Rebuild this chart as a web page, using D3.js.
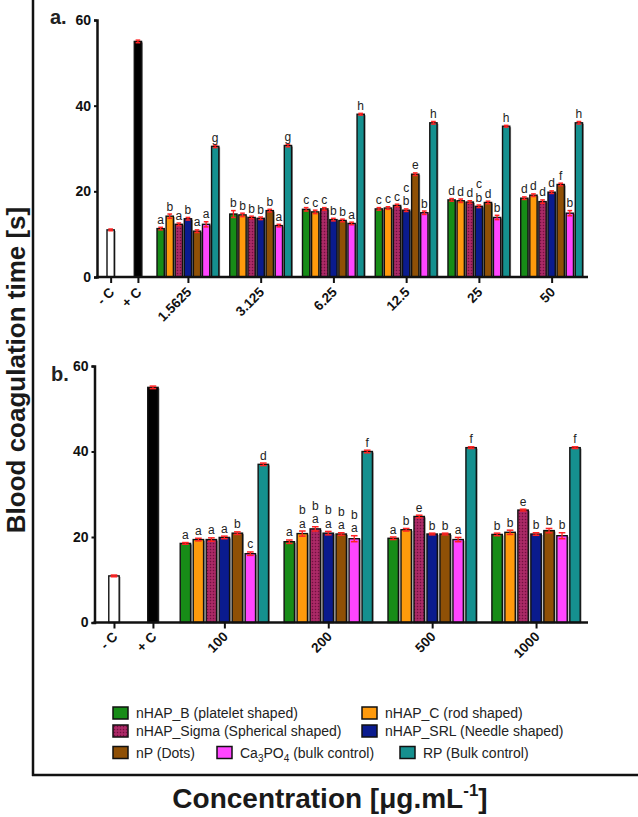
<!DOCTYPE html>
<html>
<head>
<meta charset="utf-8">
<script src="https://cdn.jsdelivr.net/npm/d3@7"></script>
<style>
  html, body { margin: 0; padding: 0; background: #fff; }
  svg { display: block; font-family: "Liberation Sans", Arial, Helvetica, sans-serif; }
</style>
</head>
<body>
<svg id="chart" width="638" height="817"></svg>
<script>
// ---------------- DATA ----------------
const seriesNames = [
  "nHAP_B (platelet shaped)",
  "nHAP_C (rod shaped)",
  "nHAP_Sigma (Spherical shaped)",
  "nHAP_SRL (Needle shaped)",
  "nP (Dots)",
  "Ca3PO4 (bulk control)",
  "RP (Bulk control)"
];
const controlLabels = ["- C", "+ C"];
const yTicks = [0, 20, 40, 60];

// Panel a
const concA = ["1.5625", "3.125", "6.25", "12.5", "25", "50"];
const controlA = [11.0, 55.0];
const controlErrA = [0.2, 0.3];
const valuesA = [
  [11.3, 14.2, 12.3, 13.6, 10.7, 12.3, 30.5],
  [14.7, 14.5, 13.9, 13.7, 15.5, 12.0, 30.7],
  [15.8, 15.2, 15.9, 13.4, 13.2, 12.5, 38.0],
  [15.9, 16.1, 16.7, 15.6, 24.0, 15.0, 36.0],
  [18.0, 17.8, 17.5, 16.5, 17.4, 13.9, 35.2],
  [18.4, 19.1, 17.6, 19.8, 21.6, 14.9, 36.0]
];
const errA = [
  [0.3, 0.5, 0.3, 0.3, 0.3, 0.6, 0.3],
  [0.8, 0.4, 0.3, 0.3, 0.3, 0.3, 0.3],
  [0.4, 0.4, 0.3, 0.3, 0.3, 0.3, 0.2],
  [0.3, 0.3, 0.3, 0.3, 0.3, 0.4, 0.3],
  [0.3, 0.4, 0.3, 0.3, 0.3, 0.5, 0.2],
  [0.3, 0.3, 0.4, 0.3, 0.3, 0.6, 0.3]
];
const lettersA = [
  ["a", "b", "a", "b", "a", "a", "g"],
  ["b", "b", "b", "b", "b", "a", "g"],
  ["c", "c", "c", "b", "b", "a", "h"],
  ["c", "c", "c", "c b", "e", "b", "h"],
  ["d", "d", "d", "c b", "d", "b", "h"],
  ["d", "d", "d", "d", "f", "b", "h"]
];

// Panel b
const concB = ["100", "200", "500", "1000"];
const controlB = [10.9, 55.0];
const controlErrB = [0.2, 0.3];
const valuesB = [
  [18.5, 19.4, 19.4, 19.9, 20.9, 16.1, 37.0],
  [18.9, 20.8, 21.9, 20.9, 20.7, 19.6, 40.0],
  [19.7, 21.7, 24.8, 20.7, 20.7, 19.4, 40.9],
  [20.6, 21.1, 26.3, 20.7, 21.5, 20.3, 40.9]
];
const errB = [
  [0.2, 0.3, 0.4, 0.3, 0.3, 0.4, 0.3],
  [0.4, 0.6, 0.5, 0.4, 0.3, 0.7, 0.3],
  [0.3, 0.3, 0.3, 0.2, 0.2, 0.5, 0.2],
  [0.3, 0.5, 0.2, 0.3, 0.5, 0.7, 0.2]
];
const lettersB = [
  ["a", "a", "a", "a", "b", "c", "d"],
  ["a", "b a", "b a", "b a", "b a", "b a", "f"],
  ["a", "b", "e", "b", "b", "a", "f"],
  ["b", "b", "e", "b", "b", "b", "f"]
];

// ---------------- STYLE ----------------
const seriesColors = ["#178c17", "#ff9a0c", "url(#sigmaPat)", "#0a1b8e", "#8f5006", "#ff45ff", "#15908f"];
const errColor = "#ff2222";

const svg = d3.select("#chart");
const defs = svg.append("defs");
const pat = defs.append("pattern").attr("id", "sigmaPat")
  .attr("patternUnits", "userSpaceOnUse").attr("width", 3).attr("height", 3);
pat.append("rect").attr("width", 3).attr("height", 3).attr("fill", "#a3235f");
pat.append("rect").attr("x", 0).attr("y", 0).attr("width", 1).attr("height", 1).attr("fill", "#6e1240");
pat.append("rect").attr("x", 1.5).attr("y", 1.5).attr("width", 1).attr("height", 1).attr("fill", "#c04080");

// Outer frame
svg.append("line").attr("x1", 33).attr("x2", 33).attr("y1", 0).attr("y2", 776)
  .attr("stroke", "#111").attr("stroke-width", 2.5);
svg.append("line").attr("x1", 32).attr("x2", 638).attr("y1", 775).attr("y2", 775)
  .attr("stroke", "#111").attr("stroke-width", 2.5);

// Titles
svg.append("text")
  .attr("transform", "translate(16,370) rotate(-90)")
  .attr("text-anchor", "middle").attr("dominant-baseline", "central")
  .attr("font-weight", "bold").attr("font-size", 26).attr("fill", "#1a1a1a")
  .text("Blood coagulation time [s]");

const xt = svg.append("text").attr("x", 330).attr("y", 808)
  .attr("text-anchor", "middle").attr("font-weight", "bold").attr("font-size", 28).attr("fill", "#1a1a1a");
xt.append("tspan").text("Concentration [\u03bcg.mL");
xt.append("tspan").attr("font-size", 17).attr("dy", -12).text("-1");
xt.append("tspan").attr("dy", 12).text("]");

function drawPanel(cfg) {
  const g = svg.append("g");
  const nG = cfg.conc.length;
  const xMax = 10 + 8 * (nG - 1) + 4;
  const x = d3.scaleLinear().domain([0, xMax]).range([cfg.x0, cfg.x1]);
  const y = d3.scaleLinear().domain([0, 60]).range([cfg.y0, cfg.y1]);
  const pitch = x(1) - x(0);
  const bw = pitch * 0.8;

  // panel letter
  g.append("text").attr("x", cfg.labelX).attr("y", cfg.labelY)
    .attr("font-weight", "bold").attr("font-size", 20).attr("fill", "#222").text(cfg.label);

  // build bar list
  const bars = [];
  const ctrlSlots = [1.5, 4.5];
  cfg.control.forEach((v, i) => bars.push({
    slot: ctrlSlots[i], v, e: cfg.controlErr[i],
    fill: i === 0 ? "#ffffff" : "#000000", letters: ""
  }));
  cfg.values.forEach((grp, gi) => grp.forEach((v, si) => bars.push({
    slot: 10 + 8 * gi + (si - 3), v, e: cfg.err[gi][si],
    fill: seriesColors[si], letters: cfg.letters[gi][si]
  })));

  // shadows
  g.selectAll("rect.shadow").data(bars).join("rect").attr("class", "shadow")
    .attr("x", d => x(d.slot) - bw / 2 + 1.3).attr("y", d => y(d.v) + 1)
    .attr("width", bw).attr("height", d => y(0) - y(d.v) - 1)
    .attr("fill", "#8a8a8a");
  // bars
  g.selectAll("rect.bar").data(bars).join("rect").attr("class", "bar")
    .attr("x", d => x(d.slot) - bw / 2).attr("y", d => y(d.v))
    .attr("width", bw).attr("height", d => y(0) - y(d.v))
    .attr("fill", d => d.fill).attr("stroke", "#111").attr("stroke-width", 1.4);

  // error bars
  const eb = g.selectAll("g.err").data(bars).join("g").attr("class", "err");
  eb.append("line")
    .attr("x1", d => x(d.slot)).attr("x2", d => x(d.slot))
    .attr("y1", d => y(d.v + d.e)).attr("y2", d => y(d.v - d.e))
    .attr("stroke", errColor).attr("stroke-width", 1.3);
  [1, -1].forEach(sgn => {
    eb.append("line")
      .attr("x1", d => x(d.slot) - bw * 0.32).attr("x2", d => x(d.slot) + bw * 0.32)
      .attr("y1", d => y(d.v + sgn * d.e)).attr("y2", d => y(d.v + sgn * d.e))
      .attr("stroke", errColor).attr("stroke-width", 1.5);
  });

  // significance letters
  const lineGap = 13.5;
  bars.filter(d => d.letters).forEach(d => {
    const parts = d.letters.split(" ");
    const base = y(d.v + d.e) - 3.5;
    parts.forEach((p, k) => {
      g.append("text")
        .attr("x", x(d.slot)).attr("y", base - (parts.length - 1 - k) * lineGap)
        .attr("text-anchor", "middle").attr("font-size", cfg.letterSize).attr("fill", "#222")
        .text(p);
    });
  });

  // axes
  const yAxis = d3.axisLeft(y).tickValues(yTicks).tickSize(3).tickPadding(3).tickFormat(d3.format("d"));
  const ya = g.append("g").attr("transform", `translate(${cfg.x0},0)`).call(yAxis);
  ya.select(".domain").attr("stroke", "#111").attr("stroke-width", 2.5);
  ya.selectAll(".tick line").attr("stroke", "#111").attr("stroke-width", 2);
  ya.selectAll(".tick text").attr("font-size", 14).attr("font-weight", "bold").attr("fill", "#111")
    .attr("font-family", "'Liberation Sans', Arial, sans-serif");

  const tickSlots = ctrlSlots.concat(cfg.conc.map((c, i) => 10 + 8 * i));
  const tickLabels = controlLabels.concat(cfg.conc);
  const xAxis = d3.axisBottom(x).tickValues(tickSlots).tickSize(6).tickPadding(4)
    .tickFormat((d, i) => tickLabels[i]);
  const xa = g.append("g").attr("transform", `translate(0,${cfg.y0})`).call(xAxis);
  xa.select(".domain").attr("stroke", "#111").attr("stroke-width", 2.5)
    .attr("d", `M${cfg.x0 - 1},0H${cfg.x1}`);
  xa.selectAll(".tick line").attr("stroke", "#111").attr("stroke-width", 2);
  xa.selectAll(".tick text").attr("font-size", 13.5).attr("font-weight", "bold").attr("fill", "#111")
    .attr("font-family", "'Liberation Sans', Arial, sans-serif")
    .attr("text-anchor", "end").attr("dy", null).attr("y", 0)
    .attr("transform", `translate(4,${cfg.tickLabelDy}) rotate(-45)`);
}

drawPanel({
  label: "a.", labelX: 50, labelY: 24,
  x0: 97, x1: 588, y0: 277, y1: 20,
  conc: concA, control: controlA, controlErr: controlErrA,
  values: valuesA, err: errA, letters: lettersA, letterSize: 12, tickLabelDy: 16
});
drawPanel({
  label: "b.", labelX: 51, labelY: 381,
  x0: 94.5, x1: 588, y0: 622.5, y1: 366,
  conc: concB, control: controlB, controlErr: controlErrB,
  values: valuesB, err: errB, letters: lettersB, letterSize: 12, tickLabelDy: 15
});

// Legend
const legendItems = [
  { i: 0, x: 113, y: 713 }, { i: 1, x: 362, y: 713 },
  { i: 2, x: 113, y: 731 }, { i: 3, x: 362, y: 731 },
  { i: 4, x: 113, y: 752.5 }, { i: 5, x: 217, y: 752.5 }, { i: 6, x: 400, y: 752.5 }
];
const lg = svg.append("g");
legendItems.forEach(it => {
  lg.append("rect").attr("x", it.x).attr("y", it.y - 6).attr("width", 15).attr("height", 12)
    .attr("fill", seriesColors[it.i]).attr("stroke", "#111").attr("stroke-width", 1.5);
  const t = lg.append("text").attr("x", it.x + 23).attr("y", it.y + 5)
    .attr("font-size", 14).attr("fill", "#222");
  const name = seriesNames[it.i];
  if (name.startsWith("Ca3PO4")) {
    t.append("tspan").text("Ca");
    t.append("tspan").attr("font-size", 10).attr("dy", 4).text("3");
    t.append("tspan").attr("dy", -4).text("PO");
    t.append("tspan").attr("font-size", 10).attr("dy", 4).text("4");
    t.append("tspan").attr("dy", -4).text(" (bulk control)");
  } else {
    t.text(name);
  }
});
</script>
</body>
</html>
